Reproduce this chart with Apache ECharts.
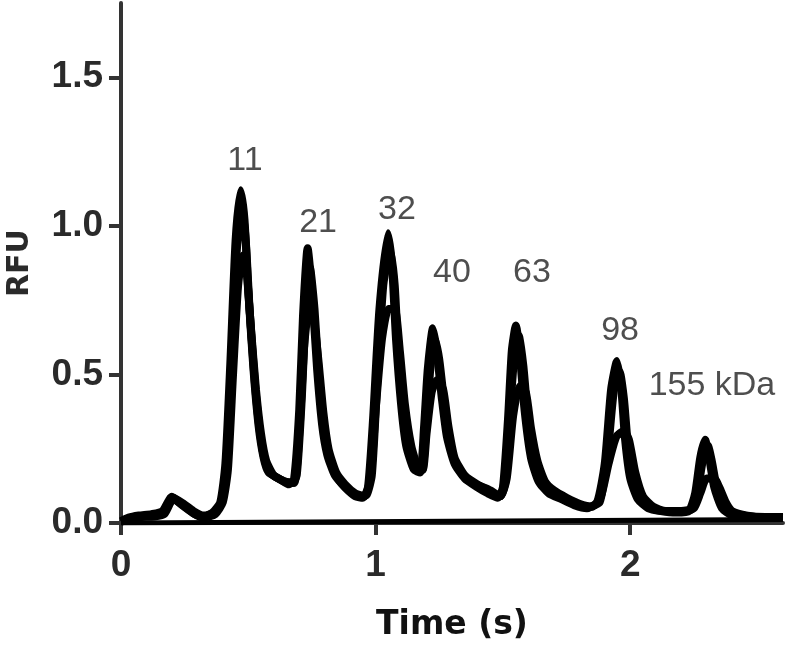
<!DOCTYPE html>
<html>
<head>
<meta charset="utf-8">
<script src="https://cdn.jsdelivr.net/npm/echarts@6/dist/echarts.min.js"></script>
<style>
html,body{margin:0;padding:0;background:#fff;}
#main{width:800px;height:653px;}
</style>
</head>
<body>
<div id="main"></div>
<script>
/*三条叠加的电泳曲线，[时间(s), RFU]*/
var traceA = [
    [0.00,0.005],[0.03,0.015],[0.06,0.022],[0.12,0.025],[0.16,0.035],[0.20,0.088],[0.24,0.06],[0.28,0.035],
    [0.32,0.018],[0.36,0.035],[0.39,0.07],[0.41,0.20],[0.43,0.55],[0.45,0.95],[0.47,1.12],[0.485,1.02],
    [0.50,0.78],[0.52,0.52],[0.54,0.33],[0.56,0.22],[0.58,0.17],[0.62,0.15],[0.66,0.13],[0.68,0.15],
    [0.70,0.38],[0.715,0.70],[0.733,0.925],[0.75,0.78],[0.77,0.52],[0.79,0.33],[0.81,0.23],[0.84,0.16],
    [0.88,0.12],[0.92,0.09],[0.95,0.085],[0.97,0.12],[0.99,0.35],[1.015,0.72],[1.049,0.975],[1.065,0.86],
    [1.08,0.62],[1.10,0.40],[1.12,0.26],[1.15,0.18],[1.175,0.17],[1.19,0.32],[1.205,0.52],[1.225,0.655],
    [1.24,0.58],[1.26,0.42],[1.28,0.29],[1.31,0.20],[1.35,0.15],[1.40,0.12],[1.44,0.10],[1.48,0.085],
    [1.50,0.12],[1.52,0.35],[1.535,0.58],[1.551,0.665],[1.565,0.58],[1.585,0.38],[1.61,0.22],[1.64,0.14],
    [1.68,0.10],[1.73,0.08],[1.78,0.06],[1.83,0.05],[1.87,0.07],[1.90,0.20],[1.925,0.45],[1.948,0.545],
    [1.965,0.45],[1.98,0.28],[2.00,0.15],[2.03,0.08],[2.07,0.05],[2.12,0.04],[2.18,0.035],[2.23,0.04],
    [2.255,0.10],[2.275,0.22],[2.294,0.28],[2.31,0.22],[2.33,0.12],[2.36,0.05],[2.40,0.025],[2.48,0.02],
    [2.60,0.018]
];
var traceB = [
    [0.00,0.006],[0.03,0.018],[0.07,0.025],[0.12,0.03],[0.165,0.04],[0.205,0.085],[0.245,0.065],[0.285,0.04],
    [0.325,0.025],[0.365,0.035],[0.395,0.07],[0.415,0.22],[0.435,0.58],[0.455,0.92],[0.475,1.06],[0.49,0.95],
    [0.505,0.72],[0.525,0.48],[0.545,0.31],[0.565,0.21],[0.59,0.165],[0.63,0.145],[0.67,0.135],[0.69,0.16],
    [0.71,0.42],[0.725,0.70],[0.742,0.86],[0.76,0.72],[0.78,0.46],[0.80,0.30],[0.825,0.20],[0.86,0.14],
    [0.90,0.105],[0.94,0.09],[0.965,0.095],[0.985,0.16],[1.005,0.45],[1.03,0.80],[1.058,0.92],[1.075,0.80],
    [1.09,0.56],[1.11,0.36],[1.135,0.24],[1.165,0.175],[1.185,0.18],[1.20,0.34],[1.215,0.52],[1.233,0.62],
    [1.25,0.55],[1.27,0.40],[1.29,0.27],[1.32,0.19],[1.36,0.145],[1.42,0.12],[1.46,0.10],[1.49,0.09],
    [1.51,0.14],[1.53,0.40],[1.545,0.56],[1.562,0.63],[1.58,0.53],[1.60,0.34],[1.625,0.20],[1.655,0.13],
    [1.69,0.10],[1.74,0.08],[1.79,0.06],[1.84,0.055],[1.88,0.07],[1.91,0.22],[1.935,0.44],[1.958,0.51],
    [1.975,0.42],[1.99,0.27],[2.01,0.15],[2.04,0.08],[2.08,0.05],[2.13,0.04],[2.19,0.04],[2.24,0.045],
    [2.265,0.11],[2.285,0.21],[2.305,0.26],[2.32,0.21],[2.34,0.12],[2.37,0.05],[2.41,0.03],[2.50,0.02],
    [2.60,0.02]
];
var traceC = [
    [0.00,0.004],[0.04,0.015],[0.08,0.02],[0.13,0.022],[0.17,0.03],[0.205,0.08],[0.25,0.055],[0.29,0.03],
    [0.33,0.02],[0.37,0.03],[0.40,0.07],[0.42,0.18],[0.44,0.50],[0.46,0.80],[0.478,0.90],[0.492,0.86],
    [0.51,0.66],[0.53,0.45],[0.55,0.30],[0.57,0.21],[0.60,0.16],[0.64,0.14],[0.68,0.135],[0.70,0.30],
    [0.72,0.60],[0.738,0.72],[0.755,0.70],[0.775,0.55],[0.795,0.37],[0.815,0.25],[0.845,0.17],[0.88,0.13],
    [0.92,0.10],[0.955,0.09],[0.98,0.15],[1.00,0.38],[1.025,0.62],[1.05,0.72],[1.075,0.72],[1.095,0.58],
    [1.115,0.40],[1.14,0.26],[1.165,0.19],[1.185,0.18],[1.20,0.30],[1.22,0.44],[1.24,0.48],[1.265,0.45],
    [1.285,0.33],[1.31,0.22],[1.35,0.16],[1.40,0.13],[1.45,0.11],[1.49,0.09],[1.515,0.15],[1.54,0.36],
    [1.565,0.46],[1.59,0.44],[1.61,0.32],[1.635,0.21],[1.665,0.14],[1.70,0.11],[1.75,0.085],[1.80,0.065],
    [1.85,0.055],[1.885,0.09],[1.915,0.20],[1.945,0.29],[1.975,0.31],[1.995,0.28],[2.02,0.17],[2.05,0.09],
    [2.09,0.055],[2.14,0.04],[2.20,0.04],[2.25,0.05],[2.275,0.10],[2.30,0.15],[2.33,0.15],[2.35,0.12],
    [2.375,0.07],[2.40,0.04],[2.46,0.025],[2.53,0.02],[2.60,0.02]
];
//空白对照，贴着x轴
var blank = [[0.00,0.0],[2.60,0.012]];

//峰标注 (kDa)
var peakNames = ['11','21','32','40','63','98','155 kDa'];
var peakX = [0.487,0.774,1.084,1.300,1.614,1.960,2.321];
var peakY = [1.218,1.012,1.053,0.844,0.844,0.649,0.464];

var xTicks = [0,1,2];
var yTicks = [0,0.5,1.0,1.5];

function lineSeries(d,w){
    return {
        type:'line',
        data:d,
        showSymbol:false,
        smooth:0.2,
        lineStyle:{color:'#000',width:w},
        z:3
    };
}

var labelData = [];
for(var i=0;i<peakNames.length;i++){
    labelData.push({name:peakNames[i],value:[peakX[i],peakY[i]]});
}

var myChart = echarts.init(document.getElementById('main'));
var option = {
    animation:false,
    backgroundColor:'#fff',
    grid:{left:121,right:17,top:3,bottom:130,containLabel:false,outerBoundsMode:'none'},
    xAxis:{
        type:'value',
        min:0,
        max:2.6,
        interval:1,
        name:'Time (s)',
        nameLocation:'middle',
        nameGap:86,
        nameTextStyle:{fontFamily:'DejaVu Sans',fontWeight:'bold',fontSize:33,color:'#111'},
        splitLine:{show:false},
        axisLine:{lineStyle:{color:'#333',width:4}},
        axisTick:{customValues:xTicks,length:12,lineStyle:{color:'#333',width:4}},
        axisLabel:{customValues:xTicks,margin:24,fontFamily:'Liberation Sans',fontWeight:'bold',fontSize:37,color:'#2a2a2a'}
    },
    yAxis:{
        type:'value',
        min:0,
        max:1.75,
        interval:0.5,
        name:'RFU',
        nameLocation:'middle',
        nameGap:86,
        nameTextStyle:{fontFamily:'DejaVu Sans',fontWeight:'bold',fontSize:30,color:'#2a2a2a'},
        splitLine:{show:false},
        axisLine:{show:true,lineStyle:{color:'#333',width:4}},
        axisTick:{show:true,customValues:yTicks,length:12,lineStyle:{color:'#333',width:4}},
        axisLabel:{
            customValues:yTicks,
            margin:18,
            fontFamily:'Liberation Sans',fontWeight:'bold',fontSize:37,color:'#2a2a2a',
            formatter:function(v){return v.toFixed(1);}
        }
    },
    series:[
        lineSeries(blank,5),
        lineSeries(traceC,8),
        lineSeries(traceB,8),
        lineSeries(traceA,8),
        {
            type:'scatter',
            data:labelData,
            symbolSize:1,
            itemStyle:{color:'rgba(0,0,0,0)'},
            label:{
                show:true,
                position:'inside',
                formatter:'{b}',
                fontFamily:'Liberation Sans',
                fontSize:34,
                color:'#222'
            },
            z:5
        }
    ]
};
myChart.setOption(option);
</script>
</body>
</html>
